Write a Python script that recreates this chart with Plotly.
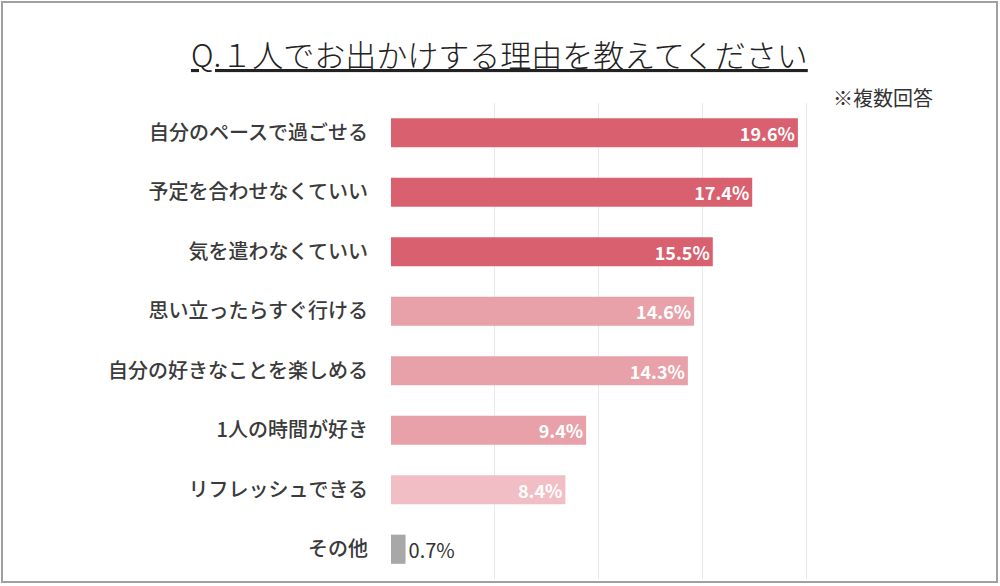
import plotly.graph_objects as go

categories = ["自分のペースで過ごせる", "予定を合わせなくていい", "気を遣わなくていい",
              "思い立ったらすぐ行ける", "自分の好きなことを楽しめる", "1人の時間が好き",
              "リフレッシュできる", "その他"]
values = [19.6, 17.4, 15.5, 14.6, 14.3, 9.4, 8.4, 0.7]
bar_colors = ["#D9606F", "#D9606F", "#D9606F", "#E8A1A9", "#E8A1A9", "#E8A1A9",
              "#F1BEC5", "#A8A8A8"]
label_texts = [f"{v}%" for v in values]
text_positions = ["inside"] * 7 + ["outside"]
text_colors = ["#FFFFFF"] * 7 + ["#333333"]
text_sizes = [18] * 7 + [20]
title_text = "Q.１人でお出かけする理由を教えてください"
note_text = "※複数回答"
grid_ticks = [0, 5, 10, 15, 20, 25]

FONT = "Noto Sans CJK JP"

fig = go.Figure()
fig.add_trace(go.Bar(
    x=values, y=categories, orientation="h",
    marker=dict(color=bar_colors, line=dict(width=0)),
    text=label_texts, textposition=text_positions,
    insidetextanchor="end", constraintext="none",
    textfont=dict(family=FONT, size=text_sizes, color=text_colors, weight=[700] * 7 + [400]),
    cliponaxis=False, width=0.49,
))

fig.update_layout(
    width=1000, height=586,
    margin=dict(l=391, r=90, t=103, b=7),
    paper_bgcolor="white", plot_bgcolor="white",
    showlegend=False,
    font=dict(family=FONT, color="#333333"),
    xaxis=dict(range=[0, 25], tickvals=grid_ticks, showticklabels=False,
               showgrid=True, gridcolor="#E9E9E9", gridwidth=1,
               zeroline=False, showline=False, fixedrange=True),
    yaxis=dict(autorange="reversed", showgrid=False, zeroline=False, showline=False,
               ticks="", ticklabelstandoff=22,
               tickfont=dict(family=FONT, size=20, color="#3A3A3A", weight=500)),
    annotations=[
        dict(text=title_text, xref="paper", yref="paper", x=(499 - 391) / 519,
             y=1 + (103 - 54) / 476, xanchor="center", yanchor="middle", showarrow=False,
             font=dict(family=FONT, size=31, color="#222222", weight=300, lineposition="under")),
        dict(text=note_text, xref="paper", yref="paper", x=(935 - 391) / 519,
             y=1 + (103 - 97) / 476, xanchor="right", yanchor="middle", showarrow=False,
             font=dict(family=FONT, size=20, color="#333333")),
    ],
    shapes=[
        dict(type="rect", xref="paper", yref="paper",
             x0=(2 - 391) / 519, x1=(997 - 391) / 519,
             y0=1 - (582 - 103) / 476, y1=1 + (103 - 2) / 476,
             line=dict(color="#A0A0A0", width=2), fillcolor="rgba(0,0,0,0)", layer="above"),
    ],
)

fig.write_html("out.html")
